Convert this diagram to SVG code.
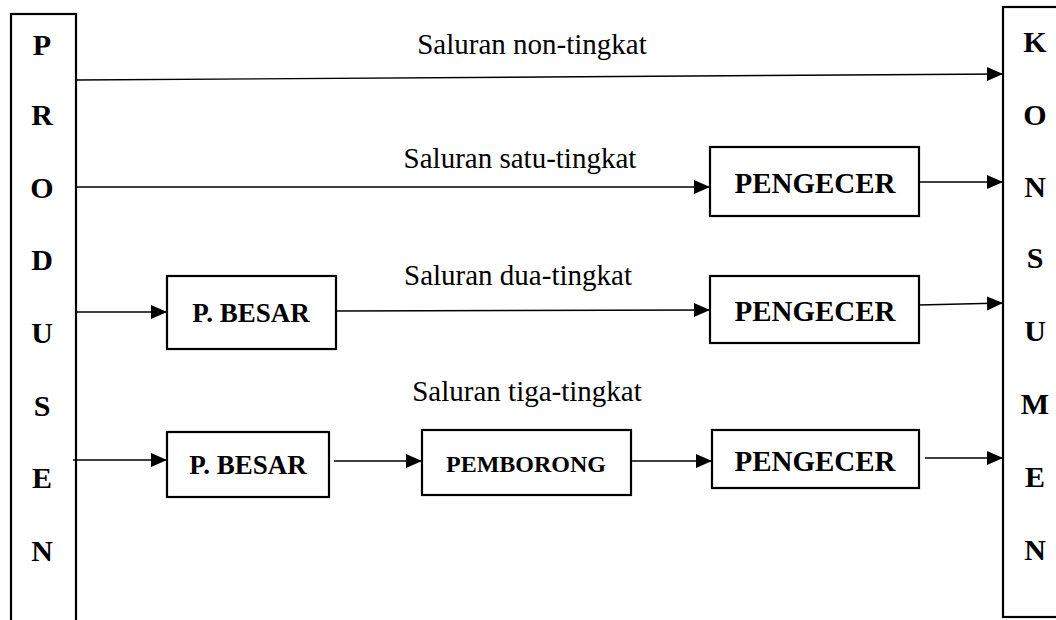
<svg xmlns="http://www.w3.org/2000/svg" width="1056" height="620" viewBox="0 0 1056 620">
<style>
.box{fill:#fff;stroke:#000;stroke-width:2.2}
.lbl{font-family:'Liberation Serif','DejaVu Serif',serif;font-size:29px;fill:#000;text-anchor:middle}
.bt{font-family:'Liberation Serif','DejaVu Serif',serif;font-weight:bold;font-size:29px;fill:#000;text-anchor:middle}
.col{font-family:'Liberation Serif','DejaVu Serif',serif;font-weight:bold;font-size:30px;fill:#000;text-anchor:middle}
.ln{stroke:#000;stroke-width:1.4;fill:none;marker-end:url(#ah)}
</style>
<defs>
<marker id="ah" markerUnits="userSpaceOnUse" markerWidth="17" markerHeight="15" refX="16" refY="7" orient="auto">
<path d="M0,0 L16,7 L0,14 Z" fill="#000"/>
</marker>
</defs>
<rect width="1056" height="620" fill="#fff"/>

<g id="produsen">
<rect class="box" x="11" y="14" width="65" height="620"/>
<text class="col" x="42" y="55">P</text>
<text class="col" x="42" y="125">R</text>
<text class="col" x="42" y="198">O</text>
<text class="col" x="42" y="270">D</text>
<text class="col" x="42" y="343">U</text>
<text class="col" x="42" y="416">S</text>
<text class="col" x="42" y="488">E</text>
<text class="col" x="42" y="561">N</text>
</g>

<g id="konsumen">
<rect class="box" x="1003" y="7" width="70" height="610"/>
<text class="col" x="1035" y="52">K</text>
<text class="col" x="1035" y="125">O</text>
<text class="col" x="1035" y="197">N</text>
<text class="col" x="1035" y="268">S</text>
<text class="col" x="1035" y="341">U</text>
<text class="col" x="1035" y="414">M</text>
<text class="col" x="1035" y="487">E</text>
<text class="col" x="1035" y="560">N</text>
</g>

<g id="pengecer1">
<rect class="box" x="710" y="147" width="209" height="69"/>
<text class="bt" x="815" y="193">PENGECER</text>
</g>
<g id="pbesar2">
<rect class="box" x="167" y="276" width="169" height="73"/>
<text class="bt" x="251" y="322" style="font-size:27px">P. BESAR</text>
</g>
<g id="pengecer2">
<rect class="box" x="710" y="276" width="209" height="67"/>
<text class="bt" x="815" y="321">PENGECER</text>
</g>
<g id="pbesar3">
<rect class="box" x="167" y="432" width="162" height="65"/>
<text class="bt" x="248" y="474" style="font-size:27px">P. BESAR</text>
</g>
<g id="pemborong">
<rect class="box" x="422" y="430" width="209" height="65"/>
<text class="bt" x="526" y="472" style="font-size:24px">PEMBORONG</text>
</g>
<g id="pengecer3">
<rect class="box" x="712" y="430" width="207" height="58"/>
<text class="bt" x="815" y="471">PENGECER</text>
</g>

<g id="labels">
<text class="lbl" x="532" y="54">Saluran non-tingkat</text>
<text class="lbl" x="520" y="168">Saluran satu-tingkat</text>
<text class="lbl" x="518" y="285">Saluran dua-tingkat</text>
<text class="lbl" x="527" y="401">Saluran tiga-tingkat</text>
</g>

<g id="connectors">
<line class="ln" x1="76" y1="80" x2="1003" y2="74"/>
<line class="ln" x1="76" y1="187" x2="710" y2="187"/>
<line class="ln" x1="919" y1="182" x2="1003" y2="182"/>
<line class="ln" x1="76" y1="312" x2="167" y2="312"/>
<line class="ln" x1="336" y1="311" x2="710" y2="310"/>
<line class="ln" x1="919" y1="305" x2="1003" y2="303"/>
<line class="ln" x1="73" y1="460" x2="167" y2="460"/>
<line class="ln" x1="334" y1="461" x2="422" y2="461"/>
<line class="ln" x1="632" y1="461" x2="712" y2="461"/>
<line class="ln" x1="925" y1="458" x2="1003" y2="458"/>
</g>
</svg>
